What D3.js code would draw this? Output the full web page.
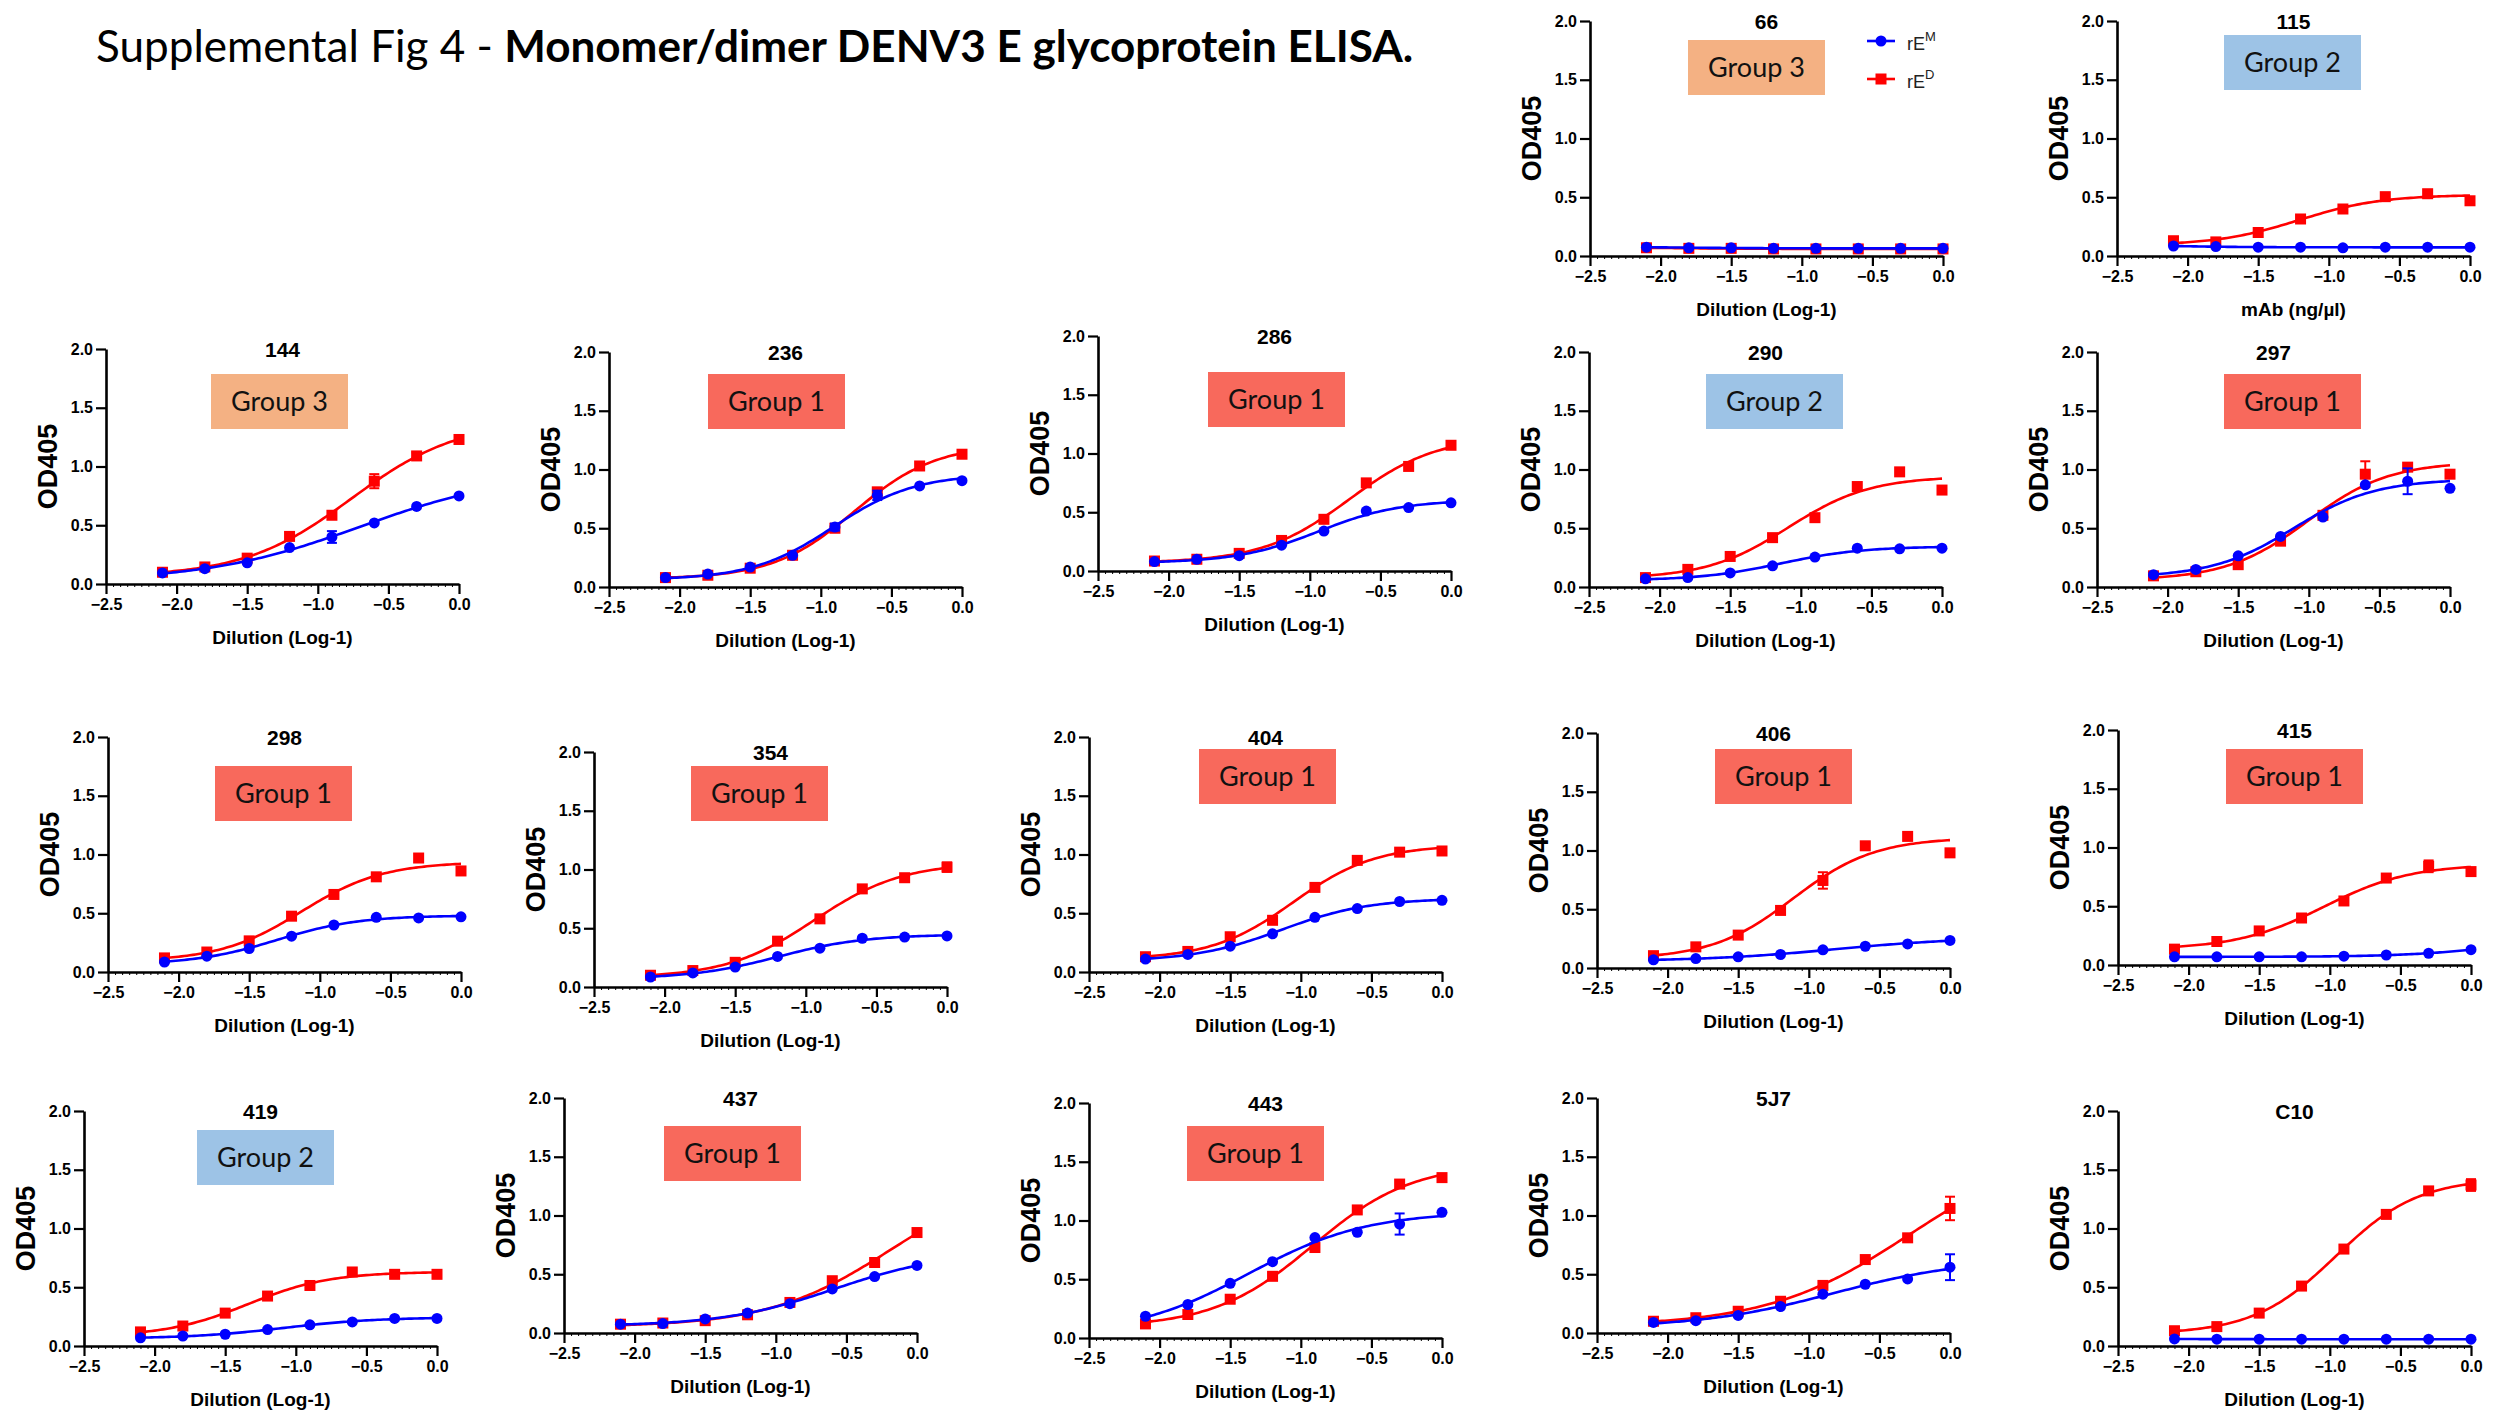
<!DOCTYPE html>
<html>
<head>
<meta charset="utf-8">
<script src="https://cdn.jsdelivr.net/npm/d3@7"></script>
<style>
  body { margin: 0; background: #fff; }
  svg text { font-family: "Liberation Sans", Arial, sans-serif; }
</style>
</head>
<body>
<svg id="fig" width="2498" height="1410"></svg>
<script>
// ---- data ----
var doses = [-2.1, -1.8, -1.5, -1.2, -0.9, -0.6, -0.3, 0.0];
var mAbs = ["66", "115", "144", "236", "286", "290", "297", "298", "354", "404", "406", "415", "419", "437", "443", "5J7", "C10"];
var groups = ["Group 3", "Group 2", "Group 3", "Group 1", "Group 1", "Group 2", "Group 1", "Group 1", "Group 1",
              "Group 1", "Group 1", "Group 1", "Group 2", "Group 1", "Group 1", null, null];
var xTitles = ["Dilution (Log-1)", "mAb  (ng/\u00b5l)", "Dilution (Log-1)", "Dilution (Log-1)", "Dilution (Log-1)",
               "Dilution (Log-1)", "Dilution (Log-1)", "Dilution (Log-1)", "Dilution (Log-1)", "Dilution (Log-1)",
               "Dilution (Log-1)", "Dilution (Log-1)", "Dilution (Log-1)", "Dilution (Log-1)", "Dilution (Log-1)",
               "Dilution (Log-1)", "Dilution (Log-1)"];
var xTicks = [-2.5, -2.0, -1.5, -1.0, -0.5, 0.0];
var yTicks = [0.0, 0.5, 1.0, 1.5, 2.0];

// rE monomer (blue)
var monomerOD = [
  [0.075, 0.07, 0.07, 0.065, 0.065, 0.065, 0.065, 0.065],
  [0.085, 0.08, 0.075, 0.075, 0.07, 0.075, 0.075, 0.075],
  [0.094, 0.13, 0.18, 0.31, 0.40, 0.52, 0.66, 0.75],
  [0.08, 0.11, 0.17, 0.27, 0.51, 0.78, 0.86, 0.905],
  [0.08, 0.10, 0.13, 0.22, 0.34, 0.51, 0.54, 0.58],
  [0.07, 0.08, 0.12, 0.18, 0.255, 0.33, 0.325, 0.33],
  [0.105, 0.15, 0.265, 0.43, 0.595, 0.87, 0.90, 0.84],
  [0.085, 0.135, 0.20, 0.305, 0.40, 0.465, 0.46, 0.47],
  [0.085, 0.12, 0.17, 0.26, 0.33, 0.415, 0.425, 0.435],
  [0.11, 0.15, 0.22, 0.325, 0.465, 0.54, 0.60, 0.61],
  [0.07, 0.08, 0.095, 0.115, 0.155, 0.185, 0.205, 0.235],
  [0.07, 0.07, 0.07, 0.07, 0.075, 0.085, 0.10, 0.13],
  [0.07, 0.085, 0.10, 0.14, 0.18, 0.205, 0.235, 0.235],
  [0.075, 0.08, 0.12, 0.17, 0.25, 0.375, 0.48, 0.575],
  [0.185, 0.285, 0.465, 0.65, 0.855, 0.90, 0.97, 1.07],
  [0.09, 0.105, 0.15, 0.225, 0.33, 0.415, 0.46, 0.56],
  [0.06, 0.058, 0.058, 0.058, 0.058, 0.058, 0.058, 0.058]
];
// rE dimer (red)
var dimerOD = [
  [0.07, 0.065, 0.065, 0.06, 0.06, 0.06, 0.06, 0.06],
  [0.13, 0.12, 0.20, 0.315, 0.40, 0.505, 0.53, 0.47],
  [0.10, 0.145, 0.22, 0.405, 0.585, 0.875, 1.09, 1.23],
  [0.08, 0.10, 0.16, 0.27, 0.50, 0.81, 1.03, 1.13],
  [0.085, 0.10, 0.15, 0.26, 0.44, 0.75, 0.89, 1.07],
  [0.08, 0.15, 0.26, 0.42, 0.59, 0.855, 0.98, 0.825],
  [0.095, 0.13, 0.19, 0.39, 0.61, 0.96, 1.02, 0.96],
  [0.12, 0.17, 0.265, 0.475, 0.66, 0.81, 0.97, 0.86],
  [0.10, 0.14, 0.21, 0.39, 0.58, 0.835, 0.93, 1.02],
  [0.13, 0.175, 0.30, 0.44, 0.72, 0.95, 1.02, 1.03],
  [0.105, 0.18, 0.28, 0.49, 0.745, 1.04, 1.12, 0.98],
  [0.135, 0.20, 0.29, 0.40, 0.545, 0.74, 0.84, 0.795],
  [0.12, 0.17, 0.28, 0.425, 0.515, 0.63, 0.61, 0.61],
  [0.075, 0.085, 0.105, 0.155, 0.26, 0.445, 0.60, 0.855],
  [0.12, 0.20, 0.33, 0.525, 0.77, 1.09, 1.31, 1.365],
  [0.10, 0.13, 0.185, 0.27, 0.405, 0.625, 0.81, 1.06],
  [0.13, 0.165, 0.28, 0.51, 0.825, 1.12, 1.32, 1.37]
];
// [mAb, series, point index, SD]
var errorBars = [
  ["144", "M", 4, 0.05], ["144", "D", 5, 0.06], ["144", "D", 6, 0.03],
  ["236", "M", 4, 0.03], ["236", "M", 5, 0.04], ["236", "D", 7, 0.03],
  ["297", "M", 6, 0.11], ["297", "D", 5, 0.11], ["354", "D", 7, 0.04],
  ["406", "D", 4, 0.07], ["415", "D", 6, 0.05], ["443", "M", 6, 0.09],
  ["5J7", "M", 7, 0.11], ["5J7", "D", 7, 0.10], ["C10", "D", 7, 0.05]
];

// ---- layout ----
var PW = 353, PH = 235;
// left edge of y axis, top (y = 2.0) of each panel
var panelPos = [[1590, 21], [2117, 21], [106, 349], [609, 352], [1098, 336], [1589, 352], [2097, 352],
                [108, 737], [594, 752], [1089, 737], [1597, 733], [2118, 730],
                [84, 1111], [564, 1098], [1089, 1103], [1597, 1098], [2118, 1111]];
// group box offset from panel origin
var boxPos = [[98, 19], [107, 14], [105, 25], [99, 22], [110, 36], [117, 22], [127, 22],
              [107, 29], [97, 14], [110, 12], [118, 16], [108, 19],
              [113, 19], [100, 28], [98, 23], null, null];
var groupColor = { "Group 1": "#f8695c", "Group 2": "#9dc3e6", "Group 3": "#f4b183" };
var BLUE = "#0000ff", RED = "#ff0000";

var svg = d3.select("#fig");

// ---- title ----
var title = svg.append("text")
    .attr("x", 96).attr("y", 62)
    .style("font-family", "Lato, 'Open Sans', sans-serif")
    .style("font-size", "44px")
    .attr("fill", "#000");
title.append("tspan").text("Supplemental Fig 4 - ");
title.append("tspan").attr("font-weight", "bold").text("Monomer/dimer DENV3 E glycoprotein ELISA.");
var tw = title.node().getComputedTextLength();
title.style("font-size", (44 * 1318 / tw) + "px");

// 4PL fit (what the software draws), fitted to the points above
function nelderMead(fn, x0, steps, iters) {
    var n = x0.length;
    var simplex = [x0.slice()];
    for (var i = 0; i < n; i++) { var p = x0.slice(); p[i] += steps[i]; simplex.push(p); }
    var vals = simplex.map(fn);
    for (var k = 0; k < iters; k++) {
        var order = d3.range(n + 1).sort(function (a, b) { return vals[a] - vals[b]; });
        simplex = order.map(function (i) { return simplex[i]; });
        vals = order.map(function (i) { return vals[i]; });
        var c = d3.range(n).map(function (j) { return d3.mean(simplex.slice(0, n), function (p) { return p[j]; }); });
        var w = simplex[n];
        var xr = c.map(function (cj, j) { return cj + (cj - w[j]); });
        var fr = fn(xr);
        if (fr < vals[0]) {
            var xe = c.map(function (cj, j) { return cj + 2 * (cj - w[j]); });
            var fe = fn(xe);
            if (fe < fr) { simplex[n] = xe; vals[n] = fe; } else { simplex[n] = xr; vals[n] = fr; }
        } else if (fr < vals[n - 1]) {
            simplex[n] = xr; vals[n] = fr;
        } else {
            var xc = c.map(function (cj, j) { return cj + 0.5 * (w[j] - cj); });
            var fc = fn(xc);
            if (fc < vals[n]) { simplex[n] = xc; vals[n] = fc; }
            else {
                for (var i2 = 1; i2 <= n; i2++) {
                    simplex[i2] = simplex[i2].map(function (v, j) { return simplex[0][j] + 0.5 * (v - simplex[0][j]); });
                    vals[i2] = fn(simplex[i2]);
                }
            }
        }
    }
    return simplex[d3.minIndex(vals)];
}
function logistic(p, x) { return p[0] + (p[1] - p[0]) / (1 + Math.pow(10, (p[2] - x) * p[3])); }
function fit4pl(ys) {
    var sse = function (p) {
        var pen = 0;
        if (p[3] < 0.5) pen += (0.5 - p[3]) * 10;
        if (p[3] > 1.5) pen += (p[3] - 1.5) * 10;
        if (p[2] < -3.5) pen += (-3.5 - p[2]) * 10;
        if (p[2] > 2) pen += (p[2] - 2) * 10;
        if (p[1] > 5) pen += (p[1] - 5) * 10;
        return pen + d3.sum(doses, function (x, i) { var e = logistic(p, x) - ys[i]; return e * e; });
    };
    var p = [d3.min(ys), d3.max(ys), -1, 1];
    for (var r = 0; r < 4; r++) p = nelderMead(sse, p, [0.05, 0.2, 0.4, 0.3], 600);
    return p;
}

mAbs.forEach(function (name, pi) {
    var ox = panelPos[pi][0], oy = panelPos[pi][1];
    var g = svg.append("g").attr("transform", "translate(" + ox + "," + oy + ")");
    var x = d3.scaleLinear().domain([-2.5, 0]).range([0, PW]);
    var y = d3.scaleLinear().domain([0, 2]).range([PH, 0]);

    // group box
    if (groups[pi]) {
        var bx = boxPos[pi][0], by = boxPos[pi][1];
        g.append("rect").attr("x", bx).attr("y", by).attr("width", 137).attr("height", 55)
            .attr("fill", groupColor[groups[pi]]);
        g.append("text").attr("x", bx + 68.5).attr("y", by + 37)
            .attr("text-anchor", "middle")
            .style("font-family", "Lato, 'Open Sans', sans-serif")
            .style("font-size", "27px").attr("fill", "#111")
            .text(groups[pi]);
    }

    // panel title
    g.append("text").attr("x", PW / 2).attr("y", 8)
        .attr("text-anchor", "middle").attr("font-weight", "bold").attr("font-size", 21)
        .text(name);

    // axes
    var ya = g.append("g").call(d3.axisLeft(y).tickValues(yTicks).tickFormat(d3.format(".1f")).tickSize(10).tickSizeOuter(0));
    var xa = g.append("g").attr("transform", "translate(0," + PH + ")")
        .call(d3.axisBottom(x).tickValues(xTicks).tickFormat(d3.format(".1f")).tickSize(10).tickSizeOuter(0));
    // minor ticks
    g.append("g").attr("transform", "translate(0," + PH + ")")
        .call(d3.axisBottom(x).tickValues(d3.range(-2.5, 0.001, 0.05)).tickFormat("").tickSize(3).tickSizeOuter(0))
        .call(function (s) { s.select(".domain").remove(); s.selectAll("line").attr("stroke-width", 1); });
    [ya, xa].forEach(function (a) {
        a.select(".domain").attr("stroke-width", 2.6);
        a.selectAll(".tick line").attr("stroke-width", 2.2);
        a.selectAll(".tick text").attr("font-size", 16).attr("font-weight", "bold").attr("fill", "#000")
            .attr("font-family", "Liberation Sans, Arial, sans-serif");
    });
    ya.selectAll(".tick text").attr("x", -13);
    xa.selectAll(".tick text").attr("y", 15);

    // axis titles
    g.append("text").attr("transform", "translate(-58," + (PH / 2) + ") rotate(-90)")
        .attr("text-anchor", "middle").attr("dy", "0.35em")
        .attr("font-weight", "bold").attr("font-size", 27).text("OD405");
    g.append("text").attr("x", PW / 2).attr("y", PH + 60)
        .attr("text-anchor", "middle").attr("font-weight", "bold").attr("font-size", 19)
        .text(xTitles[pi]);

    // series: dimer first, monomer on top
    var series = [
        { key: "D", vals: dimerOD[pi], color: RED, shape: "square" },
        { key: "M", vals: monomerOD[pi], color: BLUE, shape: "circle" }
    ];
    var line = d3.line().x(function (d) { return x(d[0]); }).y(function (d) { return y(d[1]); });
    series.forEach(function (s) {
        var p = fit4pl(s.vals);
        var xs = d3.range(-2.1, 0.0001, 0.02);
        g.append("path").attr("fill", "none").attr("stroke", s.color).attr("stroke-width", 2.6)
            .attr("d", line(xs.map(function (v) { return [v, logistic(p, v)]; })));

        errorBars.filter(function (e) { return e[0] === name && e[1] === s.key; }).forEach(function (e) {
            var cx = x(doses[e[2]]), v = s.vals[e[2]];
            var eg = g.append("g").attr("stroke", s.color).attr("stroke-width", 2);
            eg.append("line").attr("x1", cx).attr("x2", cx).attr("y1", y(v - e[3])).attr("y2", y(v + e[3]));
            eg.append("line").attr("x1", cx - 5).attr("x2", cx + 5).attr("y1", y(v - e[3])).attr("y2", y(v - e[3]));
            eg.append("line").attr("x1", cx - 5).attr("x2", cx + 5).attr("y1", y(v + e[3])).attr("y2", y(v + e[3]));
        });

        if (s.shape === "circle") {
            g.append("g").selectAll("circle").data(s.vals).enter().append("circle")
                .attr("cx", function (d, i) { return x(doses[i]); })
                .attr("cy", function (d) { return y(d); })
                .attr("r", 5.5).attr("fill", s.color);
        } else {
            g.append("g").selectAll("rect").data(s.vals).enter().append("rect")
                .attr("x", function (d, i) { return x(doses[i]) - 5.5; })
                .attr("y", function (d) { return y(d) - 5.5; })
                .attr("width", 11).attr("height", 11).attr("fill", s.color);
        }
    });

    // legend (only in the first panel)
    if (pi === 0) {
        var lg = g.append("g").attr("transform", "translate(277,20)");
        [["M", BLUE, "circle"], ["D", RED, "square"]].forEach(function (l, li) {
            var ly = li * 38;
            lg.append("line").attr("x1", 0).attr("x2", 28).attr("y1", ly).attr("y2", ly)
                .attr("stroke", l[1]).attr("stroke-width", 2.6);
            if (l[2] === "circle") lg.append("circle").attr("cx", 14).attr("cy", ly).attr("r", 5.5).attr("fill", l[1]);
            else lg.append("rect").attr("x", 8.5).attr("y", ly - 5.5).attr("width", 11).attr("height", 11).attr("fill", l[1]);
            var t = lg.append("text").attr("x", 40).attr("y", ly + 9).attr("font-size", 18).attr("fill", "#222");
            t.append("tspan").text("rE");
            t.append("tspan").attr("font-size", 13).attr("dy", -9).text(l[0]);
        });
    }
});
</script>
</body>
</html>
